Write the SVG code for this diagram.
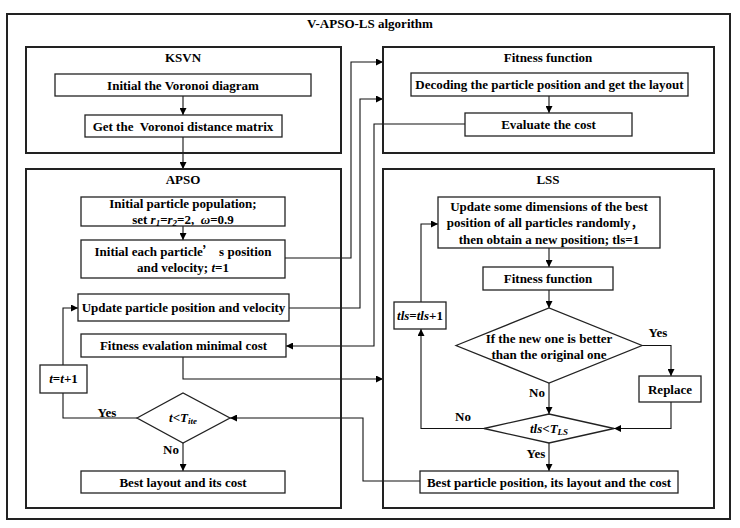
<svg xmlns="http://www.w3.org/2000/svg" width="740" height="528" viewBox="0 0 740 528">
<defs>
<marker id="ah" viewBox="0 0 8 8" refX="8" refY="4" markerWidth="7" markerHeight="7" markerUnits="userSpaceOnUse" orient="auto">
<path d="M0,0 L8,4 L0,8 z" fill="#000"/>
</marker>
<style>
text{font-family:"Liberation Serif","Times New Roman","Noto Sans CJK SC",serif;font-weight:bold;font-size:13px;fill:#000;text-anchor:middle}
.grp{fill:none;stroke:#222;stroke-width:2}
.box{fill:#fff;stroke:#222;stroke-width:1.3}
.c{fill:none;stroke:#111;stroke-width:1.1}
.a{marker-end:url(#ah)}
.i{font-style:italic}
.s{font-size:9px}
.cjk{font-family:"Noto Sans CJK SC",sans-serif}
</style>
</defs>
<rect width="740" height="528" fill="#fff"/>
<rect x="7" y="14" width="723" height="505" class="grp"/>
<text x="370" y="28">V-APSO-LS algorithm</text>

<g id="connectors">
<path class="c a" d="M183,96 V115"/>
<path class="c a" d="M183,137 V169"/>
<path class="c a" d="M183,226 V240"/>
<path class="c a" d="M285,258 H351 V62 H383"/>
<path class="c a" d="M289,308 H360 V99 H383"/>
<path class="c a" d="M549,96 V113"/>
<path class="c a" d="M465,124 H374 V346 H286"/>
<path class="c a" d="M183,357 V379 H383"/>
<path class="c a" d="M137,418 H63 V308 H78"/>
<path class="c a" d="M183,443 V471"/>
<path class="c a" d="M420,481 H363 V418 H230"/>
<path class="c a" d="M549,248 V267"/>
<path class="c a" d="M549,290 V308"/>
<path class="c a" d="M642,345.5 H671 V376"/>
<path class="c a" d="M671,402 V428.5 H614"/>
<path class="c a" d="M549,383 V414"/>
<path class="c a" d="M484,428.5 H421 V329"/>
<path class="c a" d="M421,302 V224 H438"/>
<path class="c a" d="M549,443 V471"/>
</g>

<g id="ksvn">
<rect x="26" y="47" width="315" height="106" class="grp"/>
<text x="183" y="62">KSVN</text>
</g>
<g id="init-voronoi">
<rect x="55" y="74" width="256" height="22" class="box"/>
<text x="183" y="89.5">Initial the Voronoi diagram</text>
</g>
<g id="voronoi-matrix">
<rect x="85" y="115" width="197" height="22" class="box"/>
<text x="183" y="130.5" xml:space="preserve">Get the  Voronoi distance matrix</text>
</g>

<g id="apso">
<rect x="26" y="169" width="315" height="339" class="grp"/>
<text x="183" y="184">APSO</text>
</g>
<g id="init-population">
<rect x="81" y="197" width="204" height="29" class="box"/>
<text x="183" y="207.5">Initial particle population;</text>
<text x="183" y="224" xml:space="preserve">set <tspan class="i">r</tspan><tspan class="i s" dy="2">1</tspan><tspan dy="-2">=</tspan><tspan class="i">r</tspan><tspan class="i s" dy="2">2</tspan><tspan dy="-2">=2,  </tspan><tspan class="i">ω</tspan>=0.9</text>
</g>
<g id="init-position">
<rect x="81" y="240" width="204" height="38" class="box"/>
<text x="183" y="255.5" xml:space="preserve">Initial each particle<tspan class="cjk">’</tspan> s position</text>
<text x="183" y="271.5">and velocity; <tspan class="i">t</tspan>=1</text>
</g>
<g id="update-position">
<rect x="78" y="294" width="211" height="27" class="box"/>
<text x="183.5" y="312">Update particle position and velocity</text>
</g>
<g id="fitness-eval">
<rect x="81" y="334" width="205" height="23" class="box"/>
<text x="183.5" y="350">Fitness evalation minimal cost</text>
</g>
<g id="t-inc">
<rect x="40" y="365" width="47" height="28" class="box"/>
<text x="63.5" y="383"><tspan class="i">t</tspan>=<tspan class="i">t</tspan>+1</text>
</g>
<g id="t-check">
<path d="M137,418 L183,393 L230,418 L183,443 Z" class="box"/>
<text x="183" y="422"><tspan class="i">t</tspan>&lt;<tspan class="i">T</tspan><tspan class="i s" dy="2">ite</tspan></text>
<text x="107" y="416.5">Yes</text>
<text x="171" y="454">No</text>
</g>
<g id="best-layout">
<rect x="81" y="471" width="204" height="22" class="box"/>
<text x="183" y="486.5">Best layout and its cost</text>
</g>

<g id="fitness-function">
<rect x="383" y="47" width="331" height="106" class="grp"/>
<text x="548" y="62">Fitness function</text>
</g>
<g id="decoding">
<rect x="411" y="73" width="277" height="23" class="box"/>
<text x="549.5" y="89">Decoding the particle position and get the layout</text>
</g>
<g id="evaluate-cost">
<rect x="465" y="113" width="167" height="23" class="box"/>
<text x="548.5" y="129">Evaluate the cost</text>
</g>

<g id="lss">
<rect x="383" y="169" width="331" height="339" class="grp"/>
<text x="548" y="184">LSS</text>
</g>
<g id="update-dims">
<rect x="438" y="197" width="222" height="51" class="box"/>
<text x="549" y="210.5">Update some dimensions of the best</text>
<text x="545" y="227">position of all particles randomly<tspan class="cjk">，</tspan></text>
<text x="549" y="243.5">then obtain a new position; tls=1</text>
</g>
<g id="lss-fitness">
<rect x="483" y="267" width="130" height="23" class="box"/>
<text x="548" y="283">Fitness function</text>
</g>
<g id="better-check">
<path d="M456,345.5 L549,308 L642,345.5 L549,383 Z" class="box"/>
<text x="549" y="343">If the new one is better</text>
<text x="549" y="358.5">than the original one</text>
<text x="658" y="337">Yes</text>
<text x="537" y="396.5">No</text>
</g>
<g id="replace">
<rect x="639" y="376" width="62" height="26" class="box"/>
<text x="670" y="393.5">Replace</text>
</g>
<g id="tls-check">
<path d="M484,428.5 L549,414 L614,428.5 L549,443 Z" class="box"/>
<text x="549" y="432.5"><tspan class="i">tls</tspan>&lt;<tspan class="i">T</tspan><tspan class="i s" dy="2">LS</tspan></text>
<text x="463" y="421">No</text>
<text x="536" y="457.5">Yes</text>
</g>
<g id="tls-inc">
<rect x="394" y="302" width="52" height="27" class="box"/>
<text x="420" y="319.5"><tspan class="i">tls</tspan>=<tspan class="i">tls</tspan>+1</text>
</g>
<g id="best-particle">
<rect x="420" y="471" width="258" height="22" class="box"/>
<text x="549" y="486.5">Best particle position, its layout and the cost</text>
</g>
</svg>
